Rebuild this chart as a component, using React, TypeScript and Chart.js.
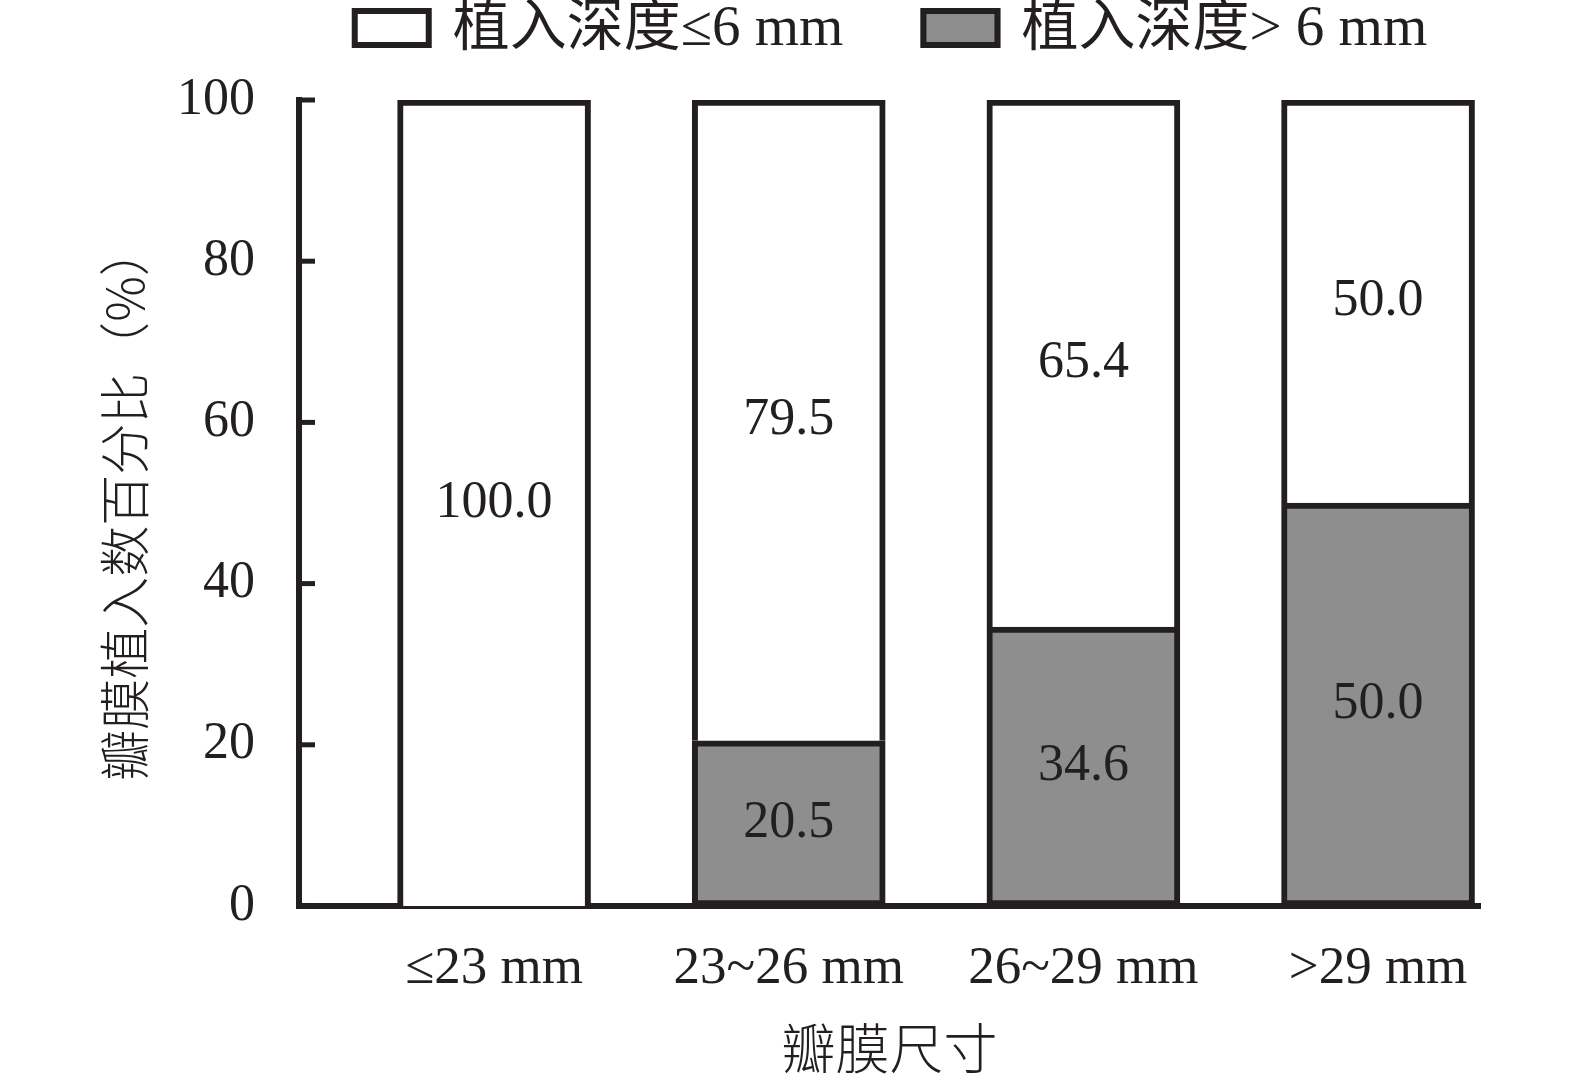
import React, { useEffect, useRef } from 'react';
import { Chart, registerables } from 'chart.js';

Chart.register(...registerables);

const CATEGORIES = ['≤23 mm', '23~26 mm', '26~29 mm', '>29 mm'];
const DEPTH_LE6: (number | null)[] = [100.0, 79.5, 65.4, 50.0];
const DEPTH_GT6: (number | null)[] = [null, 20.5, 34.6, 50.0];
const SERIES_LABELS = ['植入深度≤6 mm', '植入深度> 6 mm'];
const Y_TICK_STEP = 20;
const Y_MIN = 0;
const Y_MAX = 100;
const X_TITLE = '瓣膜尺寸';
const Y_TITLE = '瓣膜植入数百分比（%）';

const INK = '#231f20';
const GREY = '#8f8e8f';
const WHITE = '#ffffff';
const FONT = "'Liberation Serif', 'Noto Sans CJK SC', serif";
const CJK_FONT = "'Noto Sans CJK SC', 'Liberation Serif', sans-serif";

const inwardTicks = {
  id: 'inwardTicks',
  afterDraw(chart: any) {
    const y = chart.scales.y;
    const ctx = chart.ctx;
    const left = chart.chartArea.left;
    ctx.save();
    ctx.strokeStyle = INK;
    ctx.lineWidth = 5;
    y.ticks.forEach((t: any) => {
      const py = y.getPixelForValue(t.value);
      ctx.beginPath();
      ctx.moveTo(left, py);
      ctx.lineTo(left + 16, py);
      ctx.stroke();
    });
    ctx.restore();
  },
};

const valueLabels = {
  id: 'valueLabels',
  afterDatasetsDraw(chart: any) {
    const ctx = chart.ctx;
    ctx.save();
    ctx.fillStyle = INK;
    ctx.font = `52px ${FONT}`;
    ctx.textAlign = 'center';
    ctx.textBaseline = 'middle';
    chart.data.datasets.forEach((ds: any, di: number) => {
      const meta = chart.getDatasetMeta(di);
      meta.data.forEach((el: any, i: number) => {
        const v = ds.data[i];
        if (v === null || v === undefined || v <= 0) return;
        const cy = (el.y + el.base) / 2;
        ctx.fillText(v.toFixed(1), el.x, cy);
      });
    });
    ctx.restore();
  },
};

const topLegend = {
  id: 'topLegend',
  afterDraw(chart: any) {
    const ctx = chart.ctx;
    const items = [...chart.data.datasets].reverse().map((d: any) => ({
      label: d.label,
      fill: d.backgroundColor,
    }));
    ctx.save();
    ctx.font = `57px ${FONT}`;
    const boxW = 80;
    const boxH = 40;
    const boxGap = 21;
    const itemGap = 77;
    const widths = items.map((it) => ctx.measureText(it.label).width);
    const total = widths.reduce((a, w) => a + boxW + boxGap + w, 0) + itemGap * (items.length - 1);
    const center = (chart.chartArea.left + chart.chartArea.right) / 2;
    let x = center - total / 2;
    const boxTop = 8;
    const midY = 30;
    items.forEach((it, i) => {
      ctx.fillStyle = it.fill;
      ctx.fillRect(x, boxTop, boxW, boxH);
      ctx.strokeStyle = INK;
      ctx.lineWidth = 6;
      ctx.strokeRect(x + 3, boxTop + 3, boxW - 6, boxH - 6);
      ctx.fillStyle = INK;
      ctx.textAlign = 'left';
      ctx.textBaseline = 'middle';
      ctx.fillText(it.label, x + boxW + boxGap, midY);
      x += boxW + boxGap + widths[i] + itemGap;
    });
    ctx.restore();
  },
};

export default function App() {
  const ref = useRef<HTMLCanvasElement | null>(null);

  useEffect(() => {
    if (!ref.current) return;
    const chart = new Chart(ref.current, {
      type: 'bar',
      data: {
        labels: CATEGORIES.map((_, i) => i),
        datasets: [
          {
            label: SERIES_LABELS[1],
            data: DEPTH_GT6,
            backgroundColor: GREY,
            borderColor: INK,
            borderWidth: 6,
            borderSkipped: false,
            barThickness: 193,
          },
          {
            label: SERIES_LABELS[0],
            data: DEPTH_LE6,
            backgroundColor: WHITE,
            borderColor: INK,
            borderWidth: 6,
            borderSkipped: 'bottom',
            barThickness: 193,
          },
        ],
      },
      options: {
        animation: false,
        responsive: false,
        devicePixelRatio: 1,
        layout: { padding: { top: 100, right: 95, bottom: 0, left: 0 } },
        plugins: {
          legend: { display: false },
          tooltip: { enabled: false },
        },
        scales: {
          x: {
            type: 'linear',
            stacked: true,
            offset: false,
            min: -0.662,
            max: 3.346,
            z: 1,
            grid: { display: false, drawTicks: false },
            border: { display: true, color: INK, width: 6 },
            afterBuildTicks(scale: any) {
              scale.ticks = CATEGORIES.map((_, i) => ({ value: i }));
            },
            afterFit(scale: any) {
              scale.height = 179;
            },
            ticks: {
              autoSkip: false,
              maxRotation: 0,
              padding: 31,
              color: INK,
              font: { family: FONT, size: 53 },
              callback: (v: any) => CATEGORIES[Math.round(Number(v))] ?? '',
            },
            title: {
              display: true,
              text: X_TITLE,
              color: INK,
              font: { family: CJK_FONT, size: 54, weight: '300' },
              padding: { top: 0, bottom: 4 },
            },
          },
          y: {
            stacked: true,
            min: Y_MIN,
            max: Y_MAX,
            z: 1,
            grid: { display: false, drawTicks: false },
            border: { display: true, color: INK, width: 6 },
            afterFit(scale: any) {
              scale.width = 299;
            },
            ticks: {
              stepSize: Y_TICK_STEP,
              padding: 44,
              color: INK,
              font: { family: FONT, size: 52 },
            },
            title: {
              display: true,
              text: Y_TITLE,
              color: INK,
              font: { family: CJK_FONT, size: 51, weight: '300' },
              padding: { top: 94, bottom: 0 },
            },
          },
        },
      },
      plugins: [inwardTicks, valueLabels, topLegend],
    } as any);
    return () => chart.destroy();
  }, []);

  return (
    <div style={{ position: 'absolute', left: 0, top: 0, width: 1575, height: 1085, background: '#fff' }}>
      <canvas ref={ref} width={1575} height={1085} style={{ width: 1575, height: 1085 }} />
    </div>
  );
}
